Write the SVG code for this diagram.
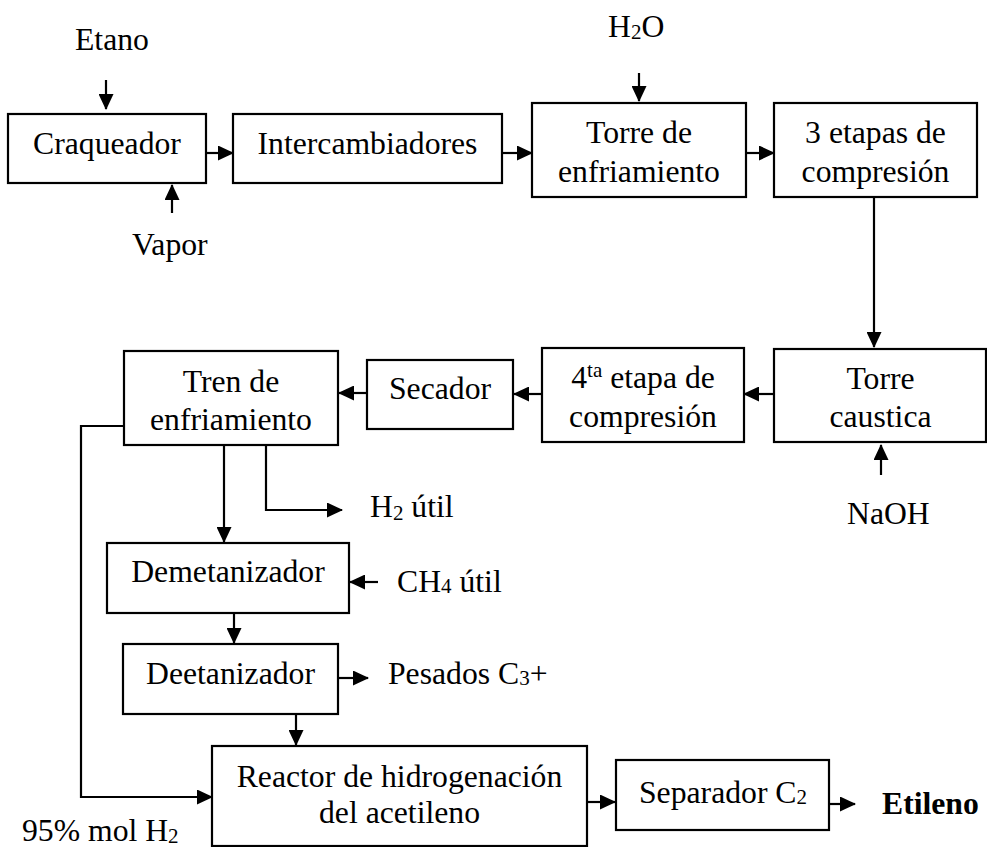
<svg xmlns="http://www.w3.org/2000/svg" width="987" height="847" viewBox="0 0 987 847">
<style>
  .box { fill: #ffffff; stroke: #000000; stroke-width: 2.2; }
  .ln { fill: none; stroke: #000000; stroke-width: 2.2; }
  .arr { marker-end: url(#ah); }
  text { font-family: "Liberation Serif", "Times New Roman", serif; font-size: 31.7px; fill: #000000; }
  .c { text-anchor: middle; }
  .sub { font-size: 21px; }
  .b { font-weight: bold; }
</style>
<defs>
  <marker id="ah" viewBox="0 0 16 15" refX="15" refY="7.5" markerWidth="16" markerHeight="15" markerUnits="userSpaceOnUse" orient="auto">
    <path d="M0,0 L16,7.5 L0,15 z" fill="#000000"/>
  </marker>
</defs>
<rect width="987" height="847" fill="#ffffff"/>

<g id="connectors">
  <path class="ln arr" d="M106,80 V109"/>
  <path class="ln arr" d="M172,213 V185"/>
  <path class="ln arr" d="M206,153 H233"/>
  <path class="ln arr" d="M502,153 H532"/>
  <path class="ln arr" d="M639,73 V101"/>
  <path class="ln arr" d="M746,153 H774"/>
  <path class="ln arr" d="M874,197 V347"/>
  <path class="ln arr" d="M881,475 V445"/>
  <path class="ln arr" d="M774,394 H744"/>
  <path class="ln arr" d="M542,394 H514"/>
  <path class="ln arr" d="M367,393 H339"/>
  <path class="ln arr" d="M224,445 V542"/>
  <path class="ln arr" d="M266,445 V510 H342"/>
  <path class="ln arr" d="M378,582 H350"/>
  <path class="ln arr" d="M234,613 V643"/>
  <path class="ln arr" d="M338,678 H368"/>
  <path class="ln arr" d="M296,714 V745"/>
  <path class="ln arr" d="M124,426 H81 V797 H212"/>
  <path class="ln arr" d="M587,802 H615"/>
  <path class="ln arr" d="M829,804 H855"/>
</g>

<g id="craqueador">
  <rect class="box" x="8" y="114" width="198" height="69"/>
  <text class="c" x="107" y="154">Craqueador</text>
</g>
<g id="intercambiadores">
  <rect class="box" x="233" y="114" width="269" height="69"/>
  <text class="c" x="367.5" y="154">Intercambiadores</text>
</g>
<g id="torre-enfriamiento">
  <rect class="box" x="532" y="103" width="214" height="94"/>
  <text class="c" x="639" y="143">Torre de</text>
  <text class="c" x="639" y="182">enfriamiento</text>
</g>
<g id="compresion-3">
  <rect class="box" x="774" y="103" width="203" height="94"/>
  <text class="c" x="875.5" y="143">3 etapas de</text>
  <text class="c" x="875.5" y="182">compresión</text>
</g>
<g id="torre-caustica">
  <rect class="box" x="774" y="349" width="212" height="93"/>
  <text class="c" x="880.5" y="389">Torre</text>
  <text class="c" x="880.5" y="427">caustica</text>
</g>
<g id="compresion-4">
  <rect class="box" x="542" y="348" width="202" height="94"/>
  <text class="c" x="643" y="388">4<tspan class="sub" dy="-11">ta</tspan><tspan dy="11"> etapa de</tspan></text>
  <text class="c" x="643" y="427">compresión</text>
</g>
<g id="secador">
  <rect class="box" x="367" y="360" width="146" height="69"/>
  <text class="c" x="440" y="399">Secador</text>
</g>
<g id="tren-enfriamiento">
  <rect class="box" x="124" y="351" width="214" height="94"/>
  <text class="c" x="231" y="392">Tren de</text>
  <text class="c" x="231" y="430">enfriamiento</text>
</g>
<g id="demetanizador">
  <rect class="box" x="107" y="543" width="242" height="70"/>
  <text class="c" x="228" y="582">Demetanizador</text>
</g>
<g id="deetanizador">
  <rect class="box" x="123" y="644" width="215" height="70"/>
  <text class="c" x="230.5" y="684">Deetanizador</text>
</g>
<g id="reactor">
  <rect class="box" x="212" y="746" width="375" height="100"/>
  <text class="c" x="399.5" y="787">Reactor de hidrogenación</text>
  <text class="c" x="399.5" y="823">del acetileno</text>
</g>
<g id="separador">
  <rect class="box" x="616" y="760" width="213" height="70"/>
  <text class="c" x="723" y="803">Separador C<tspan class="sub" dy="1">2</tspan></text>
</g>

<g id="labels">
  <text x="75" y="50">Etano</text>
  <text x="132" y="255">Vapor</text>
  <text x="608" y="37">H<tspan class="sub" dy="2">2</tspan><tspan dy="-2">O</tspan></text>
  <text x="847" y="524">NaOH</text>
  <text x="370" y="517">H<tspan class="sub" dy="3">2</tspan><tspan dy="-3"> útil</tspan></text>
  <text x="397" y="592">CH<tspan class="sub" dy="1">4</tspan><tspan dy="-1"> útil</tspan></text>
  <text x="388" y="684">Pesados C<tspan class="sub" dy="1">3</tspan><tspan dy="-1">+</tspan></text>
  <text class="b" x="882" y="814">Etileno</text>
  <text x="22" y="841">95% mol H<tspan class="sub" dy="2">2</tspan></text>
</g>
</svg>
